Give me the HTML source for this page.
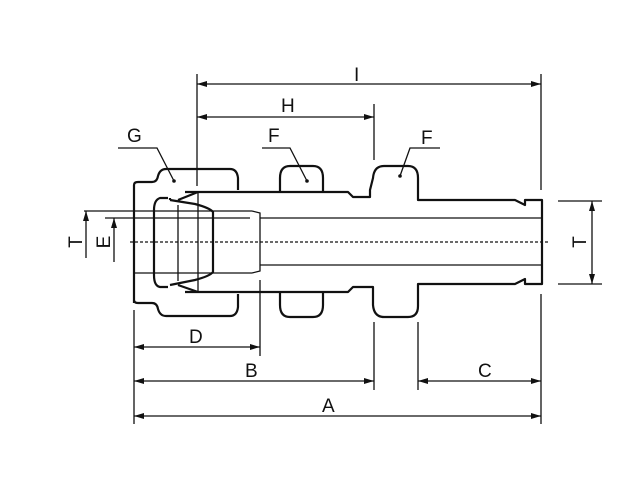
<!DOCTYPE html>
<html><head><style>body{margin:0;background:#fff}svg{display:block}text{font-family:"Liberation Sans",sans-serif;font-size:19px;fill:#111}</style></head><body>
<svg width="644" height="484" viewBox="0 0 644 484" xmlns="http://www.w3.org/2000/svg">
<defs><marker id="a" viewBox="0 0 10 6" refX="10" refY="3" markerWidth="10" markerHeight="6" orient="auto-start-reverse" markerUnits="userSpaceOnUse"><path d="M0,0L10,3L0,6z" fill="#111"/></marker></defs>
<g fill="none" stroke="#111" stroke-width="2.2" stroke-linejoin="round">
<!-- nut -->
<path d="M134,303V185Q134,182 138,182H152Q157,182 158,176Q160,169 166,169H230Q237,169 238,178V190"/>
<path d="M134,300Q134,303 138,303H152Q157,303 158,309Q160,316 166,316H230Q237,316 238,307V294"/>
<!-- hex F1 -->
<path d="M280,192V178Q280,166 290,166H313Q323,166 323,178V192"/>
<path d="M280,292V305Q280,317 290,317H313Q323,317 323,305V292"/>
<!-- body -->
<path d="M185,192H348L353,197H370V190L373,178Q374,166 384,166H408Q418,166 418,178V200H515L525,205V200H542V284H525V279L515,284H418V306Q418,317 408,317H384Q374,317 373,305L373,294V287H353L348,292H185"/>
<!-- ferrule area -->
<path d="M168,198H160Q154,200 154,210V275Q154,286 160,287H168"/>
<path d="M170,200L195,204Q210,208 213,212V272Q210,276 195,280L170,285"/>
<path d="M170,200V198M178,200L198,192M178,285L198,292"/>
</g>
<g stroke="#111" stroke-width="1.3" fill="none">
<path d="M134,211H252M134,273H252M178,205V281M213,212V272M252,211L260,213V271L252,273"/>
<path d="M260,218H541M260,265H541"/>
<path d="M198,192V291"/>
<path d="M130,242H550" stroke-dasharray="3,2"/>
<!-- extension lines -->
<path d="M197,74V186M541,74V190M541,294V424M374,104V160M374,322V390M418,322V390M134,310V424M260,280V356M84,211H134M105,218H250M558,201H602M558,284H602"/>
<!-- dims -->
<path d="M197,84H541" marker-start="url(#a)" marker-end="url(#a)"/>
<path d="M197,117H374" marker-start="url(#a)" marker-end="url(#a)"/>
<path d="M134,347H260" marker-start="url(#a)" marker-end="url(#a)"/>
<path d="M134,381H374" marker-start="url(#a)" marker-end="url(#a)"/>
<path d="M418,381H541" marker-start="url(#a)" marker-end="url(#a)"/>
<path d="M134,416H541" marker-start="url(#a)" marker-end="url(#a)"/>
<path d="M592,201V284" marker-start="url(#a)" marker-end="url(#a)"/>
<path d="M86,211V258" marker-start="url(#a)"/>
<path d="M95,211V211"/>
<path d="M114,218V262" marker-start="url(#a)"/>
<!-- leaders -->
<path d="M118,148H157L174,181M262,148H290L307,181M400,176L410,148H440"/>
</g>
<circle cx="174" cy="181" r="1.8" fill="#111"/><circle cx="307" cy="181" r="1.8" fill="#111"/><circle cx="400" cy="176" r="1.8" fill="#111"/>
<text x="354" y="81">I</text><text x="281" y="112">H</text><text x="127" y="142">G</text><text x="268" y="142">F</text><text x="421" y="144">F</text>
<text x="189" y="343">D</text><text x="245" y="377">B</text><text x="478" y="377">C</text><text x="322" y="412">A</text>
<text transform="translate(82,242) rotate(-90)" text-anchor="middle">T</text>
<text transform="translate(110,242) rotate(-90)" text-anchor="middle">E</text>
<text transform="translate(586,242) rotate(-90)" text-anchor="middle">T</text>
</svg>
</body></html>
